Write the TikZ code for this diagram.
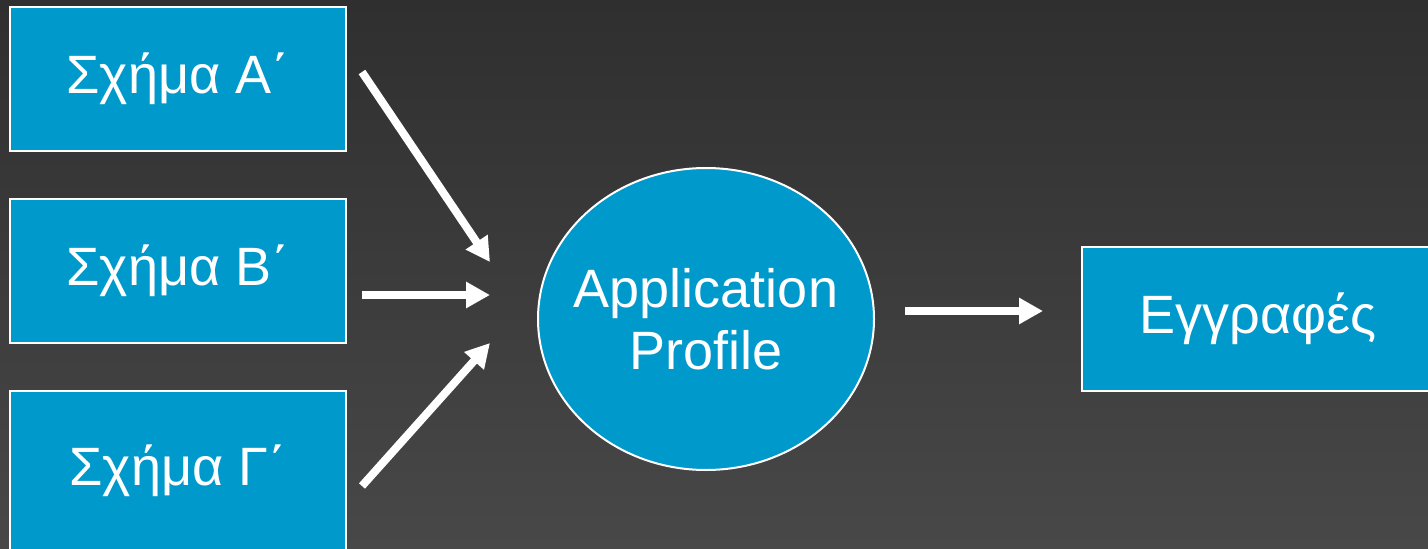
\documentclass[tikz,border=0pt]{standalone}
\usepackage{fontspec}
\setmainfont{Liberation Sans}
\usepackage{tikz}
\usetikzlibrary{shapes.geometric, arrows.meta}
\definecolor{boxblue}{RGB}{0,153,204}
\definecolor{bgtop}{RGB}{47,47,47}
\definecolor{bgbottom}{RGB}{72,72,72}
\tikzset{
    schemabox/.style={
        rectangle,
        draw=white, % 白色细边框
        fill=boxblue,
        line width=2pt,
        minimum width=336pt,
        minimum height=144pt,
        inner sep=0,
        text=white,
        font=\fontsize{54}{62}\selectfont
    },
    profilenode/.style={
        ellipse,
        draw=white, % 白色细边框
        fill=boxblue,
        line width=2pt,
        minimum width=336pt,
        minimum height=302pt,
        inner xsep=-14pt,
        inner ysep=0,
        align=center,
        text=white,
        font=\fontsize{54}{62}\selectfont
    },
    flowarrow/.style={
        draw=white,
        line width=8pt,
        -{Triangle[length=24pt,width=25pt]}
    }
}

\begin{document}
\begin{tikzpicture}[x=1pt, y=-1pt]
    % 背景
    \useasboundingbox (0,0) rectangle (1428,549);
    \shade[top color=bgtop, bottom color=bgbottom] (0,0) rectangle (1428,549);
    % 三个模式
    \node[schemabox] (schemaA) at (178,79) {Σχήμα Α΄};
    \node[schemabox] (schemaB) at (178,271) {Σχήμα Β΄};
    \node[schemabox, minimum height=160pt] (schemaC) at (178,471) {Σχήμα Γ΄};
    % 应用配置
    \node[profilenode] (profile) at (706,319) {Application\\Profile};
    % 记录
    \node[schemabox, minimum width=352pt] (records) at (1258,319) {Εγγραφές};
    % 箭头端点
    \coordinate (outA) at (362,72);
    \coordinate (inA) at (490,262);
    \coordinate (outB) at (362,295);
    \coordinate (inB) at (490,295);
    \coordinate (outC) at (362,486);
    \coordinate (inC) at (490,343);
    \coordinate (outP) at (905,311);
    \coordinate (inR) at (1043,311);
    \draw[flowarrow] (outA) -- (inA);
    \draw[flowarrow] (outB) -- (inB);
    \draw[flowarrow] (outC) -- (inC);
    \draw[flowarrow] (outP) -- (inR);
\end{tikzpicture}
\end{document}
